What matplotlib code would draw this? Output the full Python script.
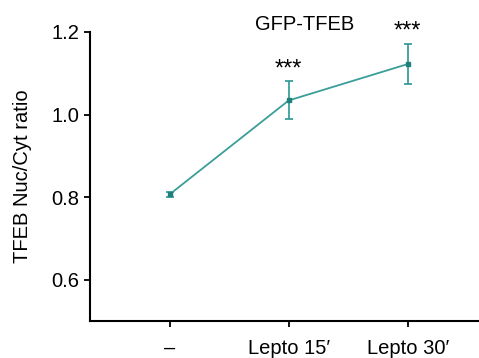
import matplotlib
matplotlib.use("Agg")
import matplotlib.pyplot as plt

categories = ["\u2013", "Lepto 15\u2032", "Lepto 30\u2032"]
values = [0.807, 1.034, 1.122]
errors = [0.006, 0.046, 0.049]
sig = ["", "***", "***"]

plt.rcParams['font.family'] = ['Liberation Sans', 'DejaVu Sans']
color = "#3a9e98"
marker_color = "#1f7f7a"

fig = plt.figure(figsize=(4.79, 3.58), dpi=100)
ax = fig.add_axes([0.188, 0.103, 0.812, 0.808])
x = list(range(len(categories)))
ax.errorbar(x, values, yerr=errors, color=color, lw=1.3, marker='s', ms=3.2,
            mfc=marker_color, mec=marker_color,
            capsize=2.6, elinewidth=1.3, capthick=1.3)
for xi, v, e, s in zip(x, values, errors, sig):
    if s:
        ax.text(xi, v + e + 0.002, s, ha='center', va='bottom', fontsize=17)
ax.set_xlim(-0.67, 2.6)
ax.set_ylim(0.5, 1.2)
ax.set_yticks([0.6, 0.8, 1.0, 1.2])
ax.set_yticklabels(["0.6", "0.8", "1.0", "1.2"])
ax.set_xticks(x)
ax.set_xticklabels(categories)
ax.tick_params(axis='both', labelsize=14.5, width=1.3, length=4)
ax.tick_params(axis='x', pad=9)
for sp in ['top', 'right']:
    ax.spines[sp].set_visible(False)
for sp in ['left', 'bottom']:
    ax.spines[sp].set_linewidth(1.5)
ax.set_ylabel("TFEB Nuc/Cyt ratio", fontsize=14.5, labelpad=14)
fig.text(305/479, 1 - 24/358, "GFP-TFEB", ha='center', va='center', fontsize=14.5)
fig.savefig("out.png", dpi=100)
